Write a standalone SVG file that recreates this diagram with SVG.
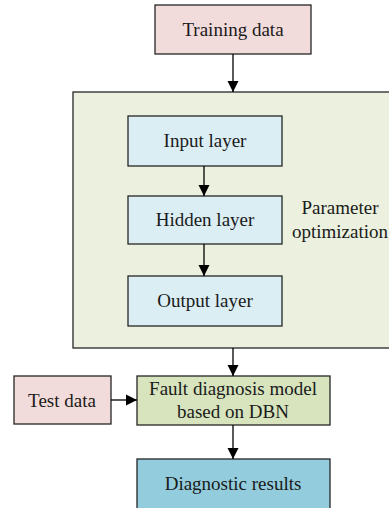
<svg xmlns="http://www.w3.org/2000/svg" width="389" height="508" viewBox="0 0 389 508">
  <style>
    .box { stroke: #262626; stroke-width: 1.3; }
    .lbl { font-size: 19px; fill: #1a1a1a; text-anchor: middle; }
    .data { fill: #f2dcdb; }
    .layer { fill: #dbeef4; }
    .wire { stroke: #000; stroke-width: 1.3; fill: none; marker-end: url(#arrow); }
  </style>
  <defs>
    <marker id="arrow" viewBox="0 0 10 10" refX="10" refY="5" markerUnits="userSpaceOnUse" markerWidth="11" markerHeight="14" orient="auto">
      <path d="M0,0 L10,5 L0,10 Z" fill="#000"/>
    </marker>
  </defs>
  <rect width="389" height="508" fill="#ffffff"/>

  <g font-family="'Liberation Serif', 'Times New Roman', serif">
    <g id="parameter-optimization">
      <rect class="box" x="73" y="92" width="330" height="256" fill="#ebf1de"/>
      <text class="lbl" x="340" y="214">Parameter</text>
      <text class="lbl" x="340" y="238">optimization</text>
    </g>

    <g id="training-data">
      <rect class="box data" x="155" y="5" width="156" height="49"/>
      <text class="lbl" x="233" y="36">Training data</text>
    </g>

    <g id="input-layer">
      <rect class="box layer" x="128" y="116" width="154" height="50"/>
      <text class="lbl" x="205" y="147">Input layer</text>
    </g>

    <g id="hidden-layer">
      <rect class="box layer" x="128" y="196" width="154" height="48"/>
      <text class="lbl" x="205" y="226">Hidden layer</text>
    </g>

    <g id="output-layer">
      <rect class="box layer" x="128" y="276" width="154" height="50"/>
      <text class="lbl" x="205" y="307">Output layer</text>
    </g>

    <g id="test-data">
      <rect class="box data" x="14" y="376" width="97" height="48"/>
      <text class="lbl" x="62" y="407">Test data</text>
    </g>

    <g id="fault-model">
      <rect class="box" x="137" y="376" width="193" height="49" fill="#d7e4bd"/>
      <text class="lbl" x="233" y="395">Fault diagnosis model</text>
      <text class="lbl" x="233" y="418">based on DBN</text>
    </g>

    <g id="diagnostic-results">
      <rect class="box" x="137" y="459" width="193" height="60" fill="#93cddd"/>
      <text class="lbl" x="233" y="490">Diagnostic results</text>
    </g>
  </g>

  <g id="connectors">
    <line class="wire" x1="233" y1="54" x2="233" y2="92"/>
    <line class="wire" x1="204" y1="166" x2="204" y2="196"/>
    <line class="wire" x1="204" y1="244" x2="204" y2="276"/>
    <line class="wire" x1="233" y1="348" x2="233" y2="376"/>
    <line class="wire" x1="111" y1="400" x2="137" y2="400"/>
    <line class="wire" x1="233" y1="425" x2="233" y2="459"/>
  </g>
</svg>
